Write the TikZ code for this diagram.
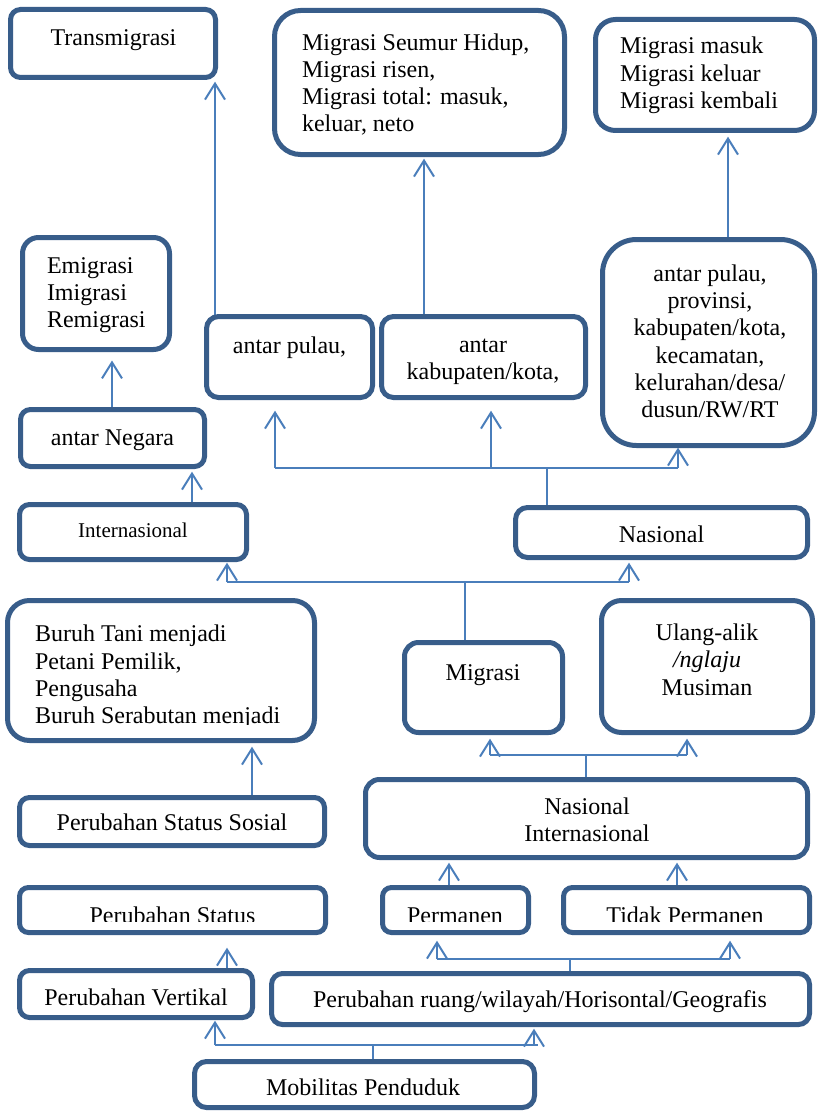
\documentclass[tikz,border=0pt]{standalone}
\usepackage{fontspec}
\setmainfont{Liberation Serif}
\usetikzlibrary{arrows.meta}
\definecolor{boxc}{RGB}{56,93,138}
\definecolor{lnc}{RGB}{74,126,187}
\pgfdeclarelayer{bg}
\pgfsetlayers{bg,main}

% rounded box: name, left, top, right, bottom (outer edges), corner radius
\newcommand\mkbox[6]{%
  \node[bx, rounded corners=#6,
        minimum width={(#4-#2-5)*0.5pt},
        minimum height={(#5-#3-5)*0.5pt}] (#1) at ({(#2+#4)/2},{(#3+#5)/2}) {};}

\tikzset{
  bx/.style={draw=boxc, line width=2.5pt, fill=white, rectangle,
             inner sep=0pt, outer sep=0pt},
  tx/.style={inner sep=0pt, outer sep=0pt, font=\fontsize{12}{13.65}\selectfont},
  ln/.style={draw=lnc, line width=1pt},
  arr/.style={ln, -{Straight Barb[length=8pt,width=10pt]}},
}

\begin{document}
\begin{tikzpicture}[x=0.5pt,y=-0.5pt]
\begin{pgfonlayer}{bg}
  \fill[white] (0,0) rectangle (819,1113);
\end{pgfonlayer}
\useasboundingbox (0,0) rectangle (819,1113);

% ---------- boxes ----------
\mkbox{b1}{8}{7}{218}{80}{5pt}
\mkbox{b2}{272}{8}{567}{157}{13pt}
\mkbox{b3}{593}{17}{817}{133}{10pt}
\mkbox{b4}{20}{235}{172}{352}{8pt}
\mkbox{b5}{204}{314}{375}{400}{6pt}
\mkbox{b6}{379}{314}{588}{400}{6pt}
\mkbox{b7}{600}{237}{817}{448}{17pt}
\mkbox{b8}{18}{407}{207}{469}{5pt}
\mkbox{b9}{17}{502}{249}{562}{5pt}
\mkbox{b10}{513}{505}{810}{560}{6pt}
\mkbox{b11}{5}{598}{317}{743}{11pt}
\mkbox{b12}{402}{640}{565}{735}{7pt}
\mkbox{b13}{599}{598}{815}{735}{10pt}
\mkbox{b14}{17}{795}{327}{848}{5pt}
\mkbox{b15}{363}{777}{810}{860}{7pt}
\mkbox{b16}{17}{885}{328}{935}{4.5pt}
\mkbox{b17}{380}{885}{531}{935}{4.5pt}
\mkbox{b18}{561}{885}{812}{935}{4.5pt}
\mkbox{b19}{17}{968}{255}{1020}{5pt}
\mkbox{b20}{269}{971}{812}{1027}{5.5pt}
\mkbox{b21}{192}{1059}{537}{1110}{6pt}

% ---------- texts ----------
\node[tx, anchor=base] (t1) at (113.5,46) {Transmigrasi};
\node[tx, anchor=west, align=left] (t2) at (302,84.5)
  {Migrasi Seumur Hidup,\\Migrasi risen,\\Migrasi total: masuk,\\keluar, neto};
\node[tx, anchor=west, align=left] (t3) at (620,75.5)
  {Migrasi masuk\\Migrasi keluar\\Migrasi kembali};
\node[tx, anchor=west, align=left] (t4) at (47,295)
  {Emigrasi\\Imigrasi\\Remigrasi};
\node[tx, anchor=base] (t5) at (289.5,353) {antar pulau,};
\node[tx, align=center] (t6) at (483,362) {antar\\kabupaten/kota,};
\node[tx, align=center] (t7) at (710,341.5)
  {antar pulau,\\provinsi,\\kabupaten/kota,\\kecamatan,\\kelurahan/desa/\\dusun/RW/RT};
\node[tx, anchor=base] (t8) at (112.5,445) {antar Negara};
\node[tx, anchor=base, font=\fontsize{10.5}{12}\selectfont] (t9) at (133,537) {Internasional};
\node[tx, anchor=base] (t10) at (661.5,542) {Nasional};
\begin{scope}
  \clip (0,0) rectangle (819,724.5);
  \node[tx, anchor=west, align=left] (t11) at (35,677)
    {Buruh Tani menjadi\\Petani Pemilik,\\Pengusaha\\Buruh Serabutan menjadi};
\end{scope}
\node[tx, anchor=base] (t12) at (483,680) {Migrasi};
\node[tx, align=center] (t13) at (707,659.5) {Ulang-alik\\\textit{/nglaju}\\Musiman};
\node[tx, anchor=base] (t14) at (172,830) {Perubahan Status Sosial};
\node[tx, align=center] (t15) at (587,820) {Nasional\\Internasional};
\begin{scope}
  \clip (0,0) rectangle (819,921.5);
  \node[tx, anchor=base] (t16) at (172.5,923) {Perubahan Status};
  \node[tx, anchor=base] (t17) at (455,923) {Permanen};
  \node[tx, anchor=base] (t18) at (685,923) {Tidak Permanen};
\end{scope}
\node[tx, anchor=base] (t19) at (136,1005) {Perubahan Vertikal};
\node[tx, anchor=base] (t20) at (540,1007) {Perubahan ruang/wilayah/Horisontal/Geografis};
\node[tx, anchor=base] (t21) at (363,1095) {Mobilitas Penduduk};

% ---------- junctions and connector columns ----------
\coordinate (jA) at (373,1045);
\coordinate (jAl) at (215,1045);
\coordinate (jAr) at (534,1045);
\coordinate (jB) at (570,959);
\coordinate (jBl) at (437,959);
\coordinate (jBr) at (730,959);
\coordinate (jC) at (586,755);
\coordinate (jCl) at (490,755);
\coordinate (jCr) at (687,755);
\coordinate (jD) at (465,582);
\coordinate (jDl) at (227,582);
\coordinate (jDr) at (629,582);
\coordinate (jE) at (547,468);
\coordinate (jEl) at (275,468);
\coordinate (jEm) at (491,468);
\coordinate (jEr) at (678,468);
\coordinate (xPV) at (227,0);
\coordinate (xPm) at (449,0);
\coordinate (xTP) at (677,0);
\coordinate (xSS) at (252,0);
\coordinate (xIn) at (192,0);
\coordinate (xNg) at (112,0);
\coordinate (xAP) at (215,0);
\coordinate (xAK) at (424,0);
\coordinate (xAL) at (728,0);

% ---------- connectors ----------
\begin{pgfonlayer}{bg}
  % Mobilitas Penduduk
  \draw[ln] (b21.north -| jA) -- (jA);
  \draw[ln] (jAl) -- ([xshift=2pt]jAr);
  \draw[arr, shorten >=1.6pt] (jAl) -- (jAl |- b19.south);
  \draw[arr, shorten >=2.1pt] (jAr) -- (jAr |- b20.south);
  % Perubahan Vertikal -> Perubahan Status
  \draw[arr, shorten >=7.6pt] (b19.north -| xPV) -- (b16.south -| xPV);
  % Perubahan ruang -> Permanen / Tidak Permanen
  \draw[ln] (b20.north -| jB) -- (jB);
  \draw[ln] (jBl) -- (jBr);
  \draw[arr, shorten >=4.1pt] (jBl) -- (jBl |- b17.south);
  \draw[arr, shorten >=4.1pt] (jBr) -- (jBr |- b18.south);
  % Permanen / Tidak Permanen -> Nasional Internasional
  \draw[arr, shorten >=2.6pt] (b17.north -| xPm) -- (b15.south -| xPm);
  \draw[arr, shorten >=2.6pt] (b18.north -| xTP) -- (b15.south -| xTP);
  % Nasional Internasional -> Migrasi / Ulang-alik
  \draw[ln] (b15.north -| jC) -- (jC);
  \draw[ln] (jCl) -- (jCr);
  \draw[arr, shorten >=3.1pt] (jCl) -- (jCl |- b12.south);
  \draw[arr, shorten >=3.1pt] (jCr) -- (jCr |- b13.south);
  % Perubahan Status Sosial -> Buruh Tani
  \draw[arr, shorten >=3.1pt] (b14.north -| xSS) -- (b11.south -| xSS);
  % Migrasi -> Internasional / Nasional
  \draw[ln] (b12.north -| jD) -- (jD);
  \draw[ln] (jDl) -- (jDr);
  \draw[arr, shorten >=1.6pt] (jDl) -- (jDl |- b9.south);
  \draw[arr, shorten >=2.6pt] (jDr) -- (jDr |- b10.south);
  % Internasional -> antar Negara -> Emigrasi
  \draw[arr, shorten >=2.6pt] (b9.north -| xIn) -- (b8.south -| xIn);
  \draw[arr, shorten >=5.5pt] (b8.north -| xNg) -- (b4.south -| xNg);
  % Nasional -> antar ...
  \draw[ln] (b10.north -| jE) -- (jE);
  \draw[ln] (jEl) -- (jEr);
  \draw[arr, shorten >=6.6pt] (jEl) -- (jEl |- b5.south);
  \draw[arr, shorten >=6.6pt] (jEm) -- (jEm |- b6.south);
  \draw[arr, shorten >=1.1pt] (jEr) -- (jEr |- b7.south);
  % antar ... -> top row
  \draw[arr, shorten >=2.1pt] (b5.north -| xAP) -- (b1.south -| xAP);
  \draw[arr, shorten >=2.1pt] (b6.north -| xAK) -- (b2.south -| xAK);
  \draw[arr, shorten >=3.1pt] (b7.north -| xAL) -- (b3.south -| xAL);
\end{pgfonlayer}
\end{tikzpicture}
\end{document}
